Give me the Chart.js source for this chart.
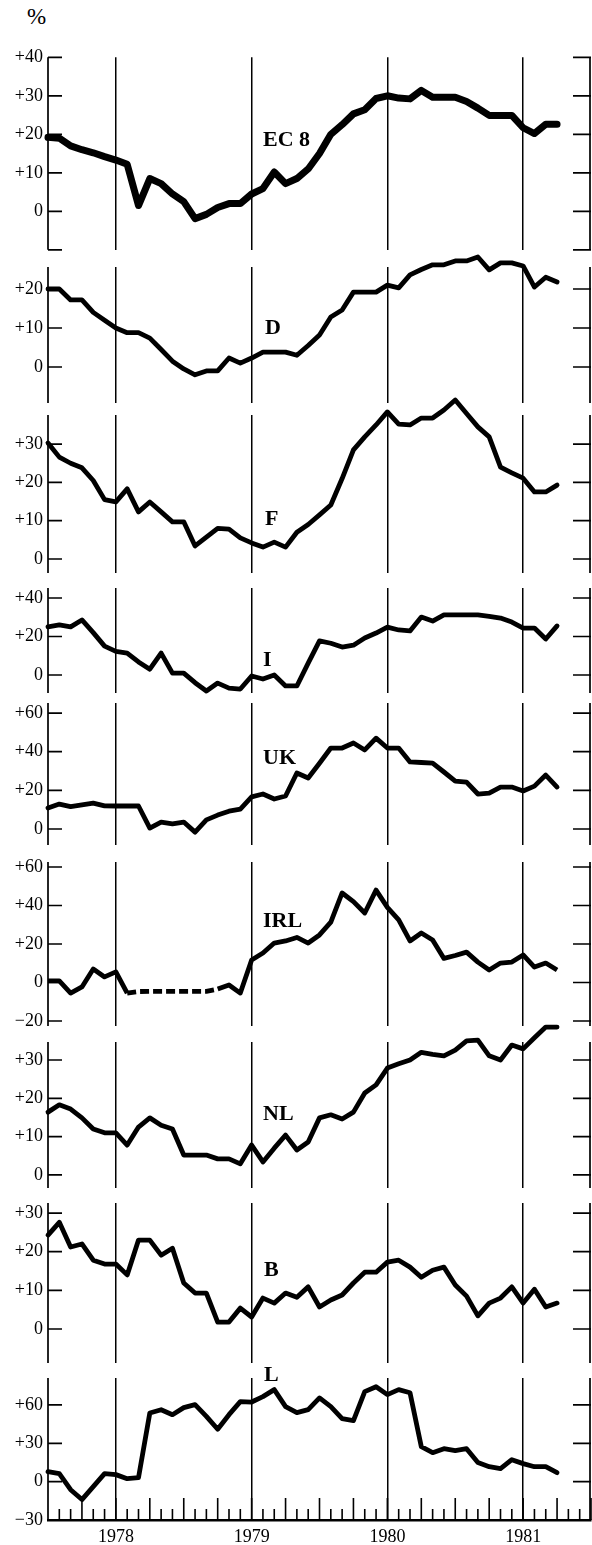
<!DOCTYPE html>
<html><head><meta charset="utf-8">
<script src="https://cdn.jsdelivr.net/npm/chart.js@4.4.0/dist/chart.umd.min.js"></script>
<style>
html,body{margin:0;padding:0;background:#fff;}
body{width:592px;height:1545px;position:relative;overflow:hidden;}
canvas{position:absolute;left:0;}
#pct{position:absolute;left:27px;top:5px;font:23px/23px "Liberation Serif",serif;color:#000;}
</style></head><body>
<div id="pct">%</div>
<script>
// ---- data (monthly, July 1977 .. April 1981) ----
const firstMonth = 1977.5;           // July 1977 in decimal years
const yearTicks = [1978, 1979, 1980, 1981];
const seriesNames = ['EC 8', 'D', 'F', 'I', 'UK', 'IRL', 'NL', 'B', 'L'];

const ec8 = [19.2,19,17,16,15.2,14.2,13.3,12.2,1.5,8.5,7.2,4.5,2.5,-1.9,-0.8,1,2,2,4.5,5.9,10.2,7.2,8.5,11,15,20,22.5,25.3,26.4,29.3,30,29.4,29.2,31.4,29.6,29.6,29.6,28.5,26.8,24.9,24.9,24.9,21.7,20.2,22.6,22.6];
const dd  = [20,20,17.2,17.2,14,12,10,8.8,8.8,7.4,4.5,1.5,-0.5,-2,-1,-1,2.3,1,2.3,3.8,3.8,3.8,3,5.5,8.2,12.8,14.6,19.2,19.2,19.2,21,20.3,23.6,25,26.2,26.2,27.2,27.2,28.2,24.9,26.7,26.7,25.9,20.5,23,21.8];
const ff  = [30.3,26.6,25,23.8,20.5,15.5,14.9,18.3,12.3,14.9,12.3,9.7,9.7,3.4,5.7,8,7.8,5.5,4.2,3.1,4.4,3.1,7,9,11.5,14.1,21,28.5,31.9,35,38.4,35.2,35,36.8,36.8,38.9,41.5,38,34.5,31.9,24,22.5,21.1,17.5,17.5,19.3];
const ii  = [25,26,25,28.6,22,15,12.3,11.4,6.8,3,11.4,1,1,-4,-8.3,-4.2,-6.8,-7.3,-0.5,-2.1,0,-5.7,-5.7,6.2,17.7,16.5,14.5,15.5,19.2,21.8,24.9,23.4,22.9,30.1,28,31.2,31.2,31.2,31.2,30.5,29.6,27.5,24.4,24.4,18.7,25.5];
const uk  = [10.9,12.9,11.6,12.5,13.4,12,11.9,11.9,11.9,0.5,3.6,2.6,3.6,-1.6,4.7,7.2,9.2,10.3,16.6,18.1,15.5,17.1,29,26.4,34,41.9,41.9,44.5,40.9,47,41.9,41.9,34.7,34.4,34.1,29.5,24.8,24.3,18.1,18.6,21.7,21.7,19.7,22.2,27.9,21.7];
const irl = [0.8,0.8,-5.5,-2.3,7,2.9,5.5,-5.5,-4.7,-4.6,-4.6,-4.6,-4.6,-4.6,-4.6,-3.4,-1.3,-5.5,11.7,15.3,20.5,21.6,23.4,20.5,24.7,31.4,46.5,42,36.1,48,39,32.5,21.6,25.7,22.1,12.5,14,15.8,10.6,6.5,10.1,10.6,14.3,8,10.1,6.5];
const irlEstimatedFrom = 7, irlEstimatedTo = 15;   // dashed stretch
const nl  = [16.4,18.3,17.2,14.9,12,11,11,7.8,12.5,14.9,13,12,5.2,5.2,5.2,4.2,4.2,2.9,7.8,3.4,7,10.4,6.5,8.6,14.9,15.7,14.6,16.4,21.4,23.5,27.9,29,30,32,31.5,31.1,32.6,35,35.2,31.1,30,33.9,32.9,35.8,38.6,38.6];
const bb  = [24.3,27.6,21.2,22,17.8,16.8,16.8,14,23,23,19.1,20.9,11.9,9.3,9.3,1.8,1.8,5.4,3.1,8,6.7,9.3,8.2,10.9,5.7,7.5,8.8,11.9,14.7,14.7,17.3,17.8,16,13.4,15.2,16,11.4,8.5,3.4,6.7,8,10.9,6.7,10.3,5.7,6.7];
const lu  = [7.8,6.3,-6.3,-14,-3.9,6.3,5.5,2.3,3.1,53.7,56.3,52.4,57.9,60.3,51.1,41,52.4,62.6,62.3,66.5,72,58.7,54,56.3,65.5,58.7,49.3,47.7,70.4,74.3,68.1,72,69.6,27.4,22.7,25.8,24.3,25.8,14.9,11.7,10.2,17.2,14.1,11.7,11.7,7];

// tick values per panel
const ec8Ticks = [-10,0,10,20,30,40];
const dTicks   = [0,10,20];
const fTicks   = [0,10,20,30];
const iTicks   = [0,20,40];
const ukTicks  = [0,20,40,60];
const irlTicks = [-20,0,20,40,60];
const nlTicks  = [0,10,20,30];
const bTicks   = [0,10,20,30];
const luTicks  = [-30,0,30,60];
const unlabelledTicks = [-10];

// ---- layout (page pixels & axis ranges) ----
const layoutInfo = [
  {top:56.7, bottom:249.5, min:-10,   max:40,   lw:7},
  {top:267,  bottom:403,   min:-9.23, max:25.64,lw:4.8},
  {top:415,  bottom:573,   min:-3.66, max:37.6, lw:4.8},
  {top:588,  bottom:693,   min:-9.35, max:45.2, lw:4.8},
  {top:703,  bottom:845,   min:-8.28, max:65.2, lw:4.8},
  {top:862,  bottom:1026,  min:-22.6, max:62.6, lw:4.8},
  {top:1042, bottom:1188,  min:-3.4,  max:34.7, lw:4.8},
  {top:1203, bottom:1363,  min:-8.8,  max:32.6, lw:4.8},
  {top:1378, bottom:1520,  min:-30,   max:81.1, lw:4.8}
];
const labelPos = [[263,140],[265,328],[265,519],[263,660],[263,758],[263,921],[263,1114],[264,1270],[264,1375]];

const seriesValues = [ec8, dd, ff, ii, uk, irl, nl, bb, lu];
const seriesTicks = [ec8Ticks, dTicks, fTicks, iTicks, ukTicks, irlTicks, nlTicks, bTicks, luTicks];

const SERIF = '"Liberation Serif", "Times New Roman", serif';
const PAD = 30;

function fmt(v){
  if (unlabelledTicks.includes(v)) return '';
  if (v > 0) return '+' + v;
  if (v < 0) return '\u2212' + Math.abs(v);
  return '0';
}

const framePlugin = {
  id: 'frame',
  afterDraw(chart, args, opts) {
    const {ctx, chartArea, scales} = chart;
    const {left, right, top, bottom} = chartArea;
    const x = scales.x, y = scales.y;
    ctx.save();
    ctx.strokeStyle = '#000';
    ctx.lineWidth = 1.7;
    ctx.beginPath();
    ctx.moveTo(left, top); ctx.lineTo(left, bottom);
    ctx.moveTo(right - 1, top); ctx.lineTo(right - 1, bottom);
    for (const t of y.ticks) {
      const py = y.getPixelForValue(t.value);
      ctx.moveTo(left, py); ctx.lineTo(left + 14, py);
      ctx.moveTo(right - 18, py); ctx.lineTo(right, py);
    }
    ctx.stroke();
    if (opts.minor) {
      ctx.lineWidth = 1.6;
      ctx.beginPath();
      for (let m = 1; m <= 48; m++) {
        const px = x.getPixelForValue(firstMonth + m / 12);
        const len = (m % 3 === 0) ? 22 : 11;
        ctx.moveTo(px, bottom); ctx.lineTo(px, bottom - len);
      }
      ctx.stroke();
    }
    ctx.fillStyle = '#000';
    ctx.font = 'bold 22px ' + SERIF;
    ctx.textBaseline = 'middle';
    ctx.textAlign = 'left';
    ctx.fillText(opts.label, opts.lx, opts.ly);
    ctx.restore();
  }
};

seriesNames.forEach((name, p) => {
  const L = layoutInfo[p];
  const isLast = p === seriesNames.length - 1;
  const canvasTop = Math.round(L.top) - PAD;
  const areaH = L.bottom - L.top;
  const xH = isLast ? 25 : 0;
  const height = isLast ? (1545 - canvasTop) : Math.round(areaH + 2 * PAD);
  const padBottom = isLast ? 0 : height - PAD - areaH;
  const cv = document.createElement('canvas');
  cv.width = 592; cv.height = height;
  cv.style.top = canvasTop + 'px';
  cv.style.width = '592px'; cv.style.height = height + 'px';
  document.body.appendChild(cv);
  const vals = seriesValues[p];
  const pts = vals.map((v, i) => ({x: firstMonth + i / 12, y: v}));
  const ds = {
    data: pts,
    borderColor: '#000',
    borderWidth: L.lw,
    pointRadius: 0,
    tension: 0,
    borderJoinStyle: 'round',
    borderCapStyle: 'round',
    clip: false
  };
  if (name === 'IRL') {
    ds.borderCapStyle = 'butt';
    ds.segment = {
      borderDash: c => (c.p0DataIndex >= irlEstimatedFrom && c.p1DataIndex <= irlEstimatedTo) ? [9, 4] : undefined
    };
  }
  new Chart(cv, {
    type: 'line',
    data: {datasets: [ds]},
    options: {
      responsive: false,
      devicePixelRatio: 1,
      animation: false,
      events: [],
      layout: {padding: {top: PAD - (L.top - Math.round(L.top)), bottom: padBottom, left: 0, right: 1}},
      plugins: {
        legend: {display: false},
        tooltip: {enabled: false},
        frame: {label: name, lx: labelPos[p][0], ly: labelPos[p][1] - canvasTop, minor: isLast}
      },
      scales: {
        x: {
          type: 'linear',
          min: 1977.5, max: 1981.5,
          afterBuildTicks: s => { s.ticks = yearTicks.map(v => ({value: v})); },
          afterFit: s => { s.height = xH; },
          grid: {color: '#000', lineWidth: 1.5, drawTicks: false, drawOnChartArea: true},
          border: {display: isLast, color: '#000', width: 2.5},
          ticks: {
            display: isLast, autoSkip: false, maxRotation: 0, padding: 6,
            color: '#000', font: {family: SERIF, size: 18},
            callback: v => String(v)
          }
        },
        y: {
          type: 'linear',
          position: 'left',
          min: L.min, max: L.max,
          afterBuildTicks: s => { s.ticks = seriesTicks[p].map(v => ({value: v})); },
          afterFit: s => { s.width = 48; },
          grid: {display: false, drawTicks: false},
          border: {display: false},
          ticks: {
            autoSkip: false, padding: 5, color: '#000',
            font: {family: SERIF, size: 18},
            callback: v => fmt(v)
          }
        }
      }
    },
    plugins: [framePlugin]
  });
});
</script>
</body></html>
